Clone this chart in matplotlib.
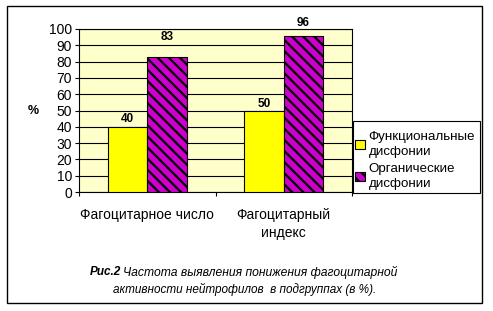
import matplotlib
matplotlib.use("Agg")
import matplotlib.pyplot as plt
import numpy as np
from matplotlib.patches import Rectangle

plt.rcParams['font.family'] = ['Liberation Sans', 'DejaVu Sans']
plt.rcParams['hatch.linewidth'] = 1.6

categories = ['Фагоцитарное число', 'Фагоцитарный\nиндекс']
series_names = ['Функциональные\nдисфонии', 'Органические\nдисфонии']
functional = [40, 50]
organic = [83, 96]
yticks = list(range(0, 101, 10))

fig = plt.figure(figsize=(4.93, 3.11), dpi=100)
W, H = 493, 311

# outer frame
fig.patches.append(Rectangle((7 / W, 1 - 303 / H), 475 / W, 297 / H,
                             transform=fig.transFigure, fill=False,
                             edgecolor='black', linewidth=1.0))

ax = fig.add_axes([79 / W, 1 - 192 / H, 273 / W, 163 / H])
ax.set_facecolor('#FFFFCC')

x = np.arange(len(categories))
bw = 0.29
b1 = ax.bar(x - bw / 2, functional, bw, color='#FFFF00', edgecolor='black',
            linewidth=0.8, label=series_names[0], zorder=3)
b2 = ax.bar(x + bw / 2, organic, bw, color='#CC00CC', edgecolor='black',
            hatch='\\\\\\', linewidth=0.8, label=series_names[1], zorder=3)

# value labels (offsets in points, as placed in the original)
offsets = [5.8, 5.0, 14.4, 8.8]
for rect, off in zip(list(b1) + list(b2), offsets):
    ax.annotate(f'{rect.get_height():.0f}',
                (rect.get_x() + rect.get_width() / 2, rect.get_height()),
                xytext=(0, off), textcoords='offset points',
                ha='center', va='center', fontsize=8.5, fontweight='bold')

ax.set_ylim(0, 100)
ax.set_xlim(-0.5, 1.5)
ax.set_yticks(yticks)
ax.tick_params(axis='y', labelsize=10, length=3, width=0.8, pad=2)
ax.yaxis.grid(True, color='black', linewidth=0.8, zorder=1)
ax.set_axisbelow(True)

ax.set_xticks([-0.5, 0.5, 1.5])
ax.set_xticklabels([])
ax.tick_params(axis='x', length=3, width=0.8)
for i, c in enumerate(categories):
    ax.text(i, -0.1, c, transform=ax.get_xaxis_transform(), ha='center',
            va='top', fontsize=10, linespacing=1.3)

for s in ax.spines.values():
    s.set_linewidth(0.8)
    s.set_color('black')

fig.text(33 / W, 1 - 111 / H, '%', fontsize=9, fontweight='bold',
         ha='center', va='center')

# legend box drawn separately so it can be taller than the text needs
fig.patches.append(Rectangle((353 / W, 1 - 193 / H), 127 / W, 72 / H,
                             transform=fig.transFigure, facecolor='white',
                             edgecolor='black', linewidth=0.8))
leg = fig.legend(loc='upper left', bbox_to_anchor=(354 / W, 1 - 130 / H),
                 fontsize=9.6, frameon=False,
                 handlelength=0.7, handleheight=0.7, handletextpad=0.3,
                 borderpad=0.1, labelspacing=0.4, borderaxespad=0)
for t in leg.get_texts():
    t.set_linespacing(1.3)

# caption
fig.text(90 / W, 1 - 272 / H, 'Рис.2', fontsize=8.5, fontweight='bold',
         fontstyle='italic', ha='left', va='center')
fig.text(123 / W, 1 - 272 / H, 'Частота выявления понижения фагоцитарной',
         fontsize=8.7, fontstyle='italic', ha='left', va='center')
fig.text(245 / W, 1 - 289 / H, 'активности нейтрофилов  в подгруппах (в %).',
         fontsize=8.5, fontstyle='italic', ha='center', va='center')

fig.savefig('out.png', dpi=100)
